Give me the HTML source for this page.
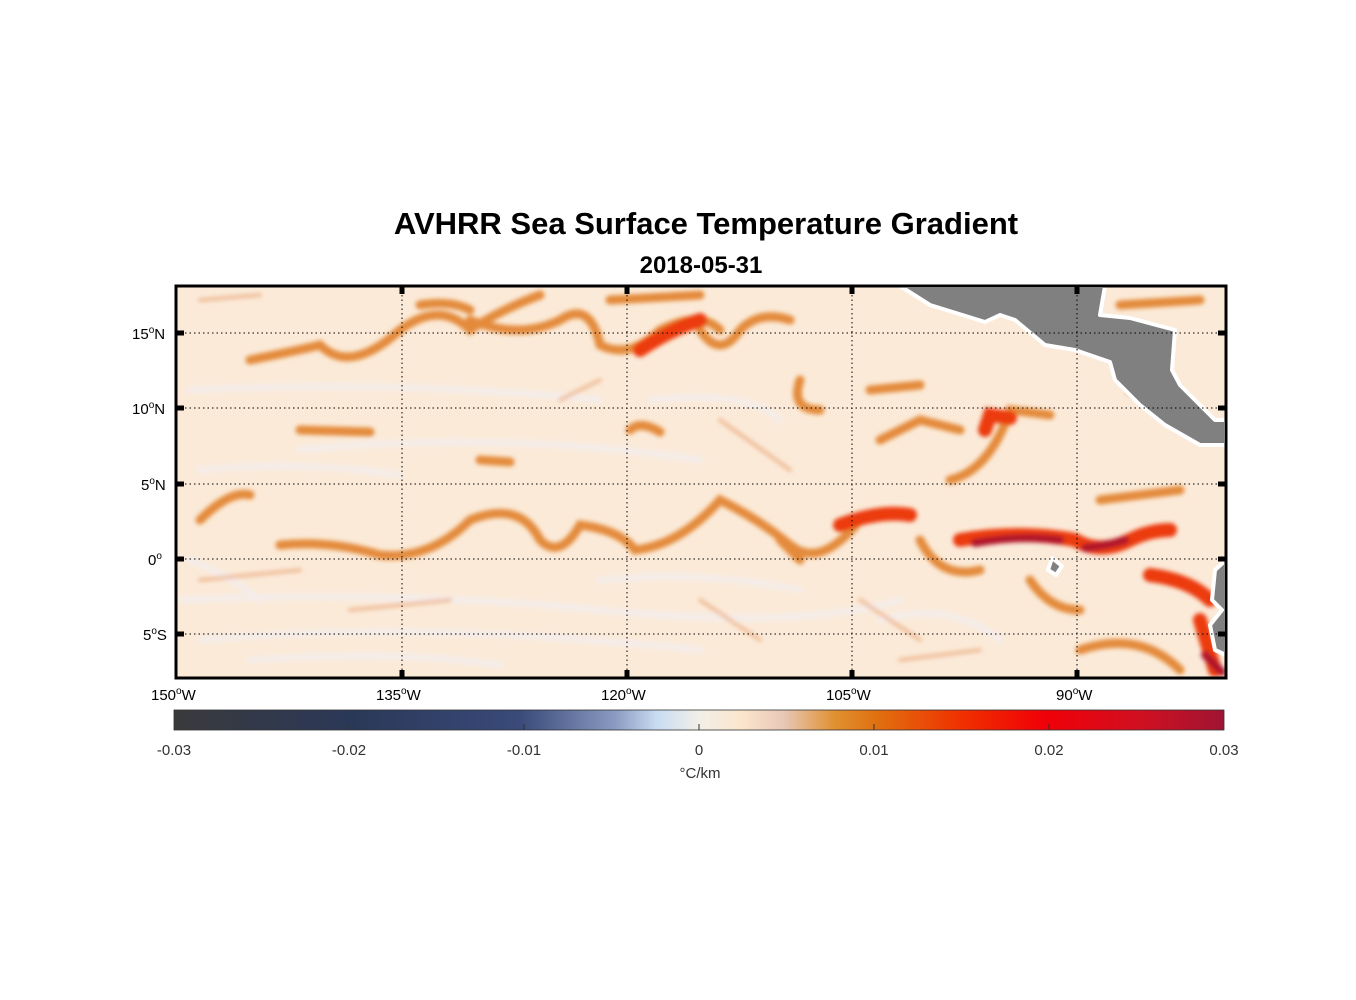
<!DOCTYPE html>
<html><head><meta charset="utf-8"><style>
body{margin:0;background:#fff;font-family:"Liberation Sans",sans-serif;}
.t{position:absolute;white-space:nowrap;}
</style></head><body>
<div style="position:relative;width:1356px;height:1000px;overflow:hidden">
<div class="t" style="left:0;width:1412px;text-align:center;top:206px;font-size:31px;font-weight:bold">AVHRR Sea Surface Temperature Gradient</div>
<div class="t" style="left:0;width:1402px;text-align:center;top:252px;font-size:24px;font-weight:bold">2018-05-31</div>
<svg width="1356" height="1000" style="position:absolute;left:0;top:0">
<defs>
<linearGradient id="cb" x1="0" x2="1">
<stop offset="0" stop-color="#3a3a3c"/><stop offset="0.17" stop-color="#2a3858"/><stop offset="0.33" stop-color="#3a4a7a"/>
<stop offset="0.42" stop-color="#8a9ac0"/><stop offset="0.46" stop-color="#c8dcf2"/><stop offset="0.5" stop-color="#f2efe8"/>
<stop offset="0.54" stop-color="#fbe6cc"/><stop offset="0.58" stop-color="#e8c8b8"/><stop offset="0.63" stop-color="#e09030"/>
<stop offset="0.67" stop-color="#e07010"/><stop offset="0.75" stop-color="#f03000"/><stop offset="0.83" stop-color="#f00008"/>
<stop offset="0.92" stop-color="#d01020"/><stop offset="1" stop-color="#a01434"/>
</linearGradient>
<clipPath id="mc"><rect x="176" y="286" width="1050" height="392"/></clipPath>
<filter id="bl"><feGaussianBlur stdDeviation="2"/></filter>
</defs>
<rect x="176" y="286" width="1050" height="392" fill="#fbead8"/>
<g clip-path="url(#mc)" fill="none" stroke-linecap="round" filter="url(#bl)">
<g stroke="#f4eeee" stroke-width="7" opacity="0.8">
<path d="M180 600 Q400 590 600 610 T900 600"/><path d="M200 640 Q420 620 700 650"/><path d="M300 450 Q500 430 700 460"/><path d="M190 390 Q400 380 600 400"/>
<path d="M200 470 Q300 460 400 475"/><path d="M600 580 Q700 570 800 590"/><path d="M250 660 Q400 650 500 665"/><path d="M650 400 Q750 390 780 420"/>
<path d="M880 620 Q950 600 1000 640"/><path d="M190 560 Q230 575 260 600"/>
</g>
<g stroke="#e8a070" stroke-width="4" opacity="0.6">
<path d="M200 580 L300 570"/><path d="M350 610 L450 600"/><path d="M700 600 L760 640"/><path d="M720 420 L790 470"/><path d="M560 400 L600 380"/>
<path d="M200 300 L260 295"/><path d="M860 600 L920 640"/><path d="M900 660 L980 650"/>
</g>
<g stroke="#e07a1e" stroke-width="9" opacity="0.85">
<path d="M280 545 Q330 540 380 555 Q430 560 470 520"/>
<path d="M200 520 Q230 490 250 495"/>
<path d="M470 520 Q520 500 540 540 Q560 560 580 525 Q620 530 635 550 Q680 545 720 500 Q760 520 790 545 Q820 570 860 520"/>
<path d="M480 460 L510 462"/>
<path d="M300 430 L370 432"/>
<path d="M250 360 Q300 350 320 345 Q350 375 400 330 Q440 300 470 330 Q500 310 540 295"/>
<path d="M470 320 Q520 340 560 320 Q590 300 600 345 Q630 360 660 330 Q700 310 720 330"/>
<path d="M420 305 Q450 300 470 310"/><path d="M610 300 L700 295"/>
<path d="M700 330 Q720 360 740 330 Q760 310 790 320"/>
<path d="M800 380 Q790 410 820 410"/>
<path d="M630 430 Q640 420 660 432"/>
<path d="M870 390 L920 385"/><path d="M880 440 L920 420 L960 430"/>
<path d="M950 480 Q990 470 1010 410 L1050 415"/>
<path d="M920 540 Q940 580 980 570"/>
<path d="M1030 580 Q1050 610 1080 610"/>
<path d="M1100 500 L1180 490"/><path d="M1130 390 L1160 400"/>
<path d="M1080 650 Q1140 630 1180 670"/>
<path d="M1120 305 L1200 300"/>
<path d="M780 540 L800 560"/>
</g>
<g stroke="#ec3a10" stroke-width="14">
<path d="M840 525 Q880 510 910 515"/>
<path d="M960 540 Q1020 530 1075 540 Q1100 555 1130 540 Q1150 530 1170 530"/>
<path d="M1150 575 Q1190 580 1210 600"/>
<path d="M1200 620 L1215 670"/>
<path d="M640 350 Q670 330 700 320"/>
<path d="M985 430 L990 415 L1010 418"/>
</g>
<g stroke="#b0142a" stroke-width="8">
<path d="M975 543 Q1020 535 1060 540"/><path d="M1085 548 Q1110 545 1125 540"/>
<path d="M1205 655 L1222 672"/>
</g>
</g>
<g fill="#808080" stroke="#fff" stroke-width="4" stroke-linejoin="round">
<polygon points="900,286 1105,286 1100,315 1130,318 1175,330 1172,370 1180,385 1215,420 1226,420 1226,445 1200,445 1165,425 1140,405 1115,380 1110,362 1075,350 1045,345 1015,320 1000,315 985,322 930,305"/>
<polygon points="1226,560 1215,570 1212,600 1222,610 1210,625 1215,650 1226,655"/>
<polygon points="1052,558 1062,566 1056,575 1048,570"/>
</g>
<g stroke="#000" stroke-width="1" stroke-dasharray="1.5 3">
<line x1="402" y1="286" x2="402" y2="678"/><line x1="627" y1="286" x2="627" y2="678"/><line x1="852" y1="286" x2="852" y2="678"/><line x1="1077" y1="286" x2="1077" y2="678"/>
<line x1="176" y1="333" x2="1226" y2="333"/><line x1="176" y1="408" x2="1226" y2="408"/><line x1="176" y1="484" x2="1226" y2="484"/><line x1="176" y1="559" x2="1226" y2="559"/><line x1="176" y1="634" x2="1226" y2="634"/>
</g>
<g stroke="#000" stroke-width="5">
<path d="M402 286v8M627 286v8M852 286v8M1077 286v8M402 678v-8M627 678v-8M852 678v-8M1077 678v-8"/>
<path d="M176 333h8M176 408h8M176 484h8M176 559h8M176 634h8M1226 333h-8M1226 408h-8M1226 484h-8M1226 559h-8M1226 634h-8"/>
</g>
<rect x="176" y="286" width="1050" height="392" fill="none" stroke="#000" stroke-width="3"/>
<rect x="174" y="710" width="1050" height="20" fill="url(#cb)" stroke="#333" stroke-width="0.8"/>
<g stroke="#333" stroke-width="1"><path d="M349 730v-6M524 730v-6M699 730v-6M874 730v-6M1049 730v-6"/></g>
<g font-size="15" fill="#000" font-family="Liberation Sans,sans-serif">
<text x="132" y="339">15<tspan dy="-6" font-size="10">o</tspan><tspan dy="6">N</tspan></text>
<text x="132" y="414">10<tspan dy="-6" font-size="10">o</tspan><tspan dy="6">N</tspan></text>
<text x="141" y="490">5<tspan dy="-6" font-size="10">o</tspan><tspan dy="6">N</tspan></text>
<text x="148" y="565">0<tspan dy="-6" font-size="10">o</tspan></text>
<text x="143" y="640">5<tspan dy="-6" font-size="10">o</tspan><tspan dy="6">S</tspan></text>
<text x="151" y="700">150<tspan dy="-6" font-size="10">o</tspan><tspan dy="6">W</tspan></text>
<text x="376" y="700">135<tspan dy="-6" font-size="10">o</tspan><tspan dy="6">W</tspan></text>
<text x="601" y="700">120<tspan dy="-6" font-size="10">o</tspan><tspan dy="6">W</tspan></text>
<text x="826" y="700">105<tspan dy="-6" font-size="10">o</tspan><tspan dy="6">W</tspan></text>
<text x="1056" y="700">90<tspan dy="-6" font-size="10">o</tspan><tspan dy="6">W</tspan></text>
</g>
<g font-size="15" fill="#333" text-anchor="middle" font-family="Liberation Sans,sans-serif">
<text x="174" y="755">-0.03</text><text x="349" y="755">-0.02</text><text x="524" y="755">-0.01</text><text x="699" y="755">0</text><text x="874" y="755">0.01</text><text x="1049" y="755">0.02</text><text x="1224" y="755">0.03</text>
<text x="700" y="778">°C/km</text>
</g>
</svg>
</div>
</body></html>
